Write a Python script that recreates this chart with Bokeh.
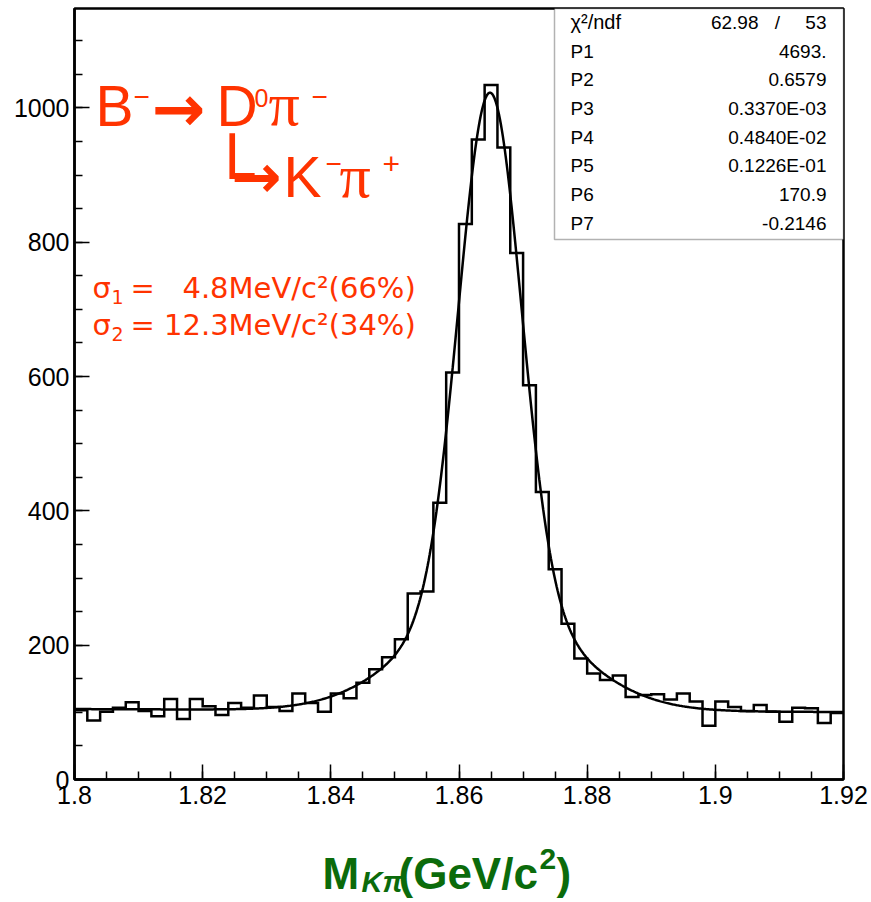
import numpy as np
from bokeh.plotting import figure
from bokeh.layouts import column
from bokeh.models import Range1d, FixedTicker, Label, BoxAnnotation
from bokeh.embed import file_html
from bokeh.resources import INLINE

# ---------------- data ----------------
bin_lo = 1.80
bin_width = 0.002
counts = [103, 88, 101, 107, 115, 102, 94, 120, 90, 120,
          109, 96, 114, 107, 125, 108, 102, 128, 114, 101,
          128, 121, 144, 164, 182, 209, 277, 280, 412, 606,
          827, 953, 1034, 941, 784, 587, 428, 313, 232, 180,
          158, 148, 155, 123, 126, 127, 119, 128, 116, 80,
          116, 108, 102, 111, 101, 86, 107, 106, 84, 99]

x_ticks = [1.80, 1.82, 1.84, 1.86, 1.88, 1.90, 1.92]
x_tick_labels = ["1.8", "1.82", "1.84", "1.86", "1.88", "1.9", "1.92"]
x_minor = [1.80 + 0.005 * i for i in range(25)]
y_ticks = [0, 200, 400, 600, 800, 1000]
y_minor = [50 * i for i in range(23)]

par_names = ["P1", "P2", "P3", "P4", "P5", "P6", "P7"]
par_values = [4693.0, 0.6579, 0.3370e-03, 0.4840e-02, 0.1226e-01, 170.9, -0.2146]
par_texts = ["4693.", "0.6579", "0.3370E-03", "0.4840E-02", "0.1226E-01", "170.9", "-0.2146"]
chi2_text = "62.98"
ndf_text = "53"

# fit model: double gaussian (fraction P2, widths P4, P5, mean 1.8645+P3) + linear bkg
m_ref = 1.8645
fit_norm = 0.003
P1, P2, P3, P4, P5, P6, P7 = par_values
xs = np.linspace(1.80, 1.92, 800)
mean = m_ref + P3
g1 = np.exp(-0.5 * ((xs - mean) / P4) ** 2) / (np.sqrt(2 * np.pi) * P4)
g2 = np.exp(-0.5 * ((xs - mean) / P5) ** 2) / (np.sqrt(2 * np.pi) * P5)
fit_y = P1 * fit_norm * (P2 * g1 + (1 - P2) * g2) + P6 * (1 + P7 * xs)

# ---------------- main figure ----------------
YMAX = 1148
FL, FR, FT, FB = 74, 843, 8, 779
W = 870
H1 = 830
p = figure(width=W, height=H1, x_range=Range1d(1.80, 1.92), y_range=Range1d(0, YMAX),
           output_backend="svg", toolbar_location=None,
           min_border_left=FL, min_border_right=W - FR, min_border_top=FT,
           min_border_bottom=H1 - FB)
p.background_fill_color = "white"
p.border_fill_color = "white"
p.grid.visible = False
p.outline_line_color = "black"
p.outline_line_width = 2.5

for ax in (p.xaxis[0], p.yaxis[0]):
    ax.axis_line_width = 2.5
    ax.major_tick_line_width = 1.5
    ax.minor_tick_line_width = 1.5
    ax.major_tick_in = 15
    ax.major_tick_out = 0
    ax.minor_tick_in = 8
    ax.minor_tick_out = 0
    ax.major_label_text_font = "Liberation Sans"
    ax.major_label_text_font_size = "25px"
    ax.major_label_text_color = "black"

p.xaxis.ticker = FixedTicker(ticks=x_ticks, minor_ticks=x_minor)
p.xaxis.major_label_overrides = {t: s for t, s in zip(x_ticks, x_tick_labels)}
p.xaxis.major_label_standoff = 6
p.yaxis.ticker = FixedTicker(ticks=y_ticks, minor_ticks=y_minor)
p.yaxis.major_label_standoff = 5

edges = bin_lo + bin_width * np.arange(len(counts) + 1)
p.step(edges, counts + [counts[-1]], mode="after", line_color="black", line_width=2.5,
       line_join="miter")
p.line(xs, fit_y, line_color="black", line_width=2.5)

# page-pixel -> data helpers for annotation placement
def X(px):
    return 1.80 + (px - FL) / (FR - FL) * 0.12
def Y(py):
    return (FB - py) / (FB - FT) * YMAX

BASE_SHIFT = 0.37  # empirical: rendered baseline sits this many em below the anchor

def txt(fig, s, x, y, size, color="black", font="Liberation Sans", align="left",
        style="normal"):
    fig.add_layout(Label(x=x, y=y, text=s, text_font=font,
                         text_font_size=f"{size}px", text_color=color, text_align=align,
                         text_baseline="alphabetic", text_font_style=style))

def ptxt(s, px, py, size, **kw):
    txt(p, s, X(px), Y(py - BASE_SHIFT * size), size, **kw)

RED = "#ff3300"
NB = "\u00a0"
# decay chain
ptxt("B", 95, 127, 57, color=RED)
ptxt("\u2212", 133, 106, 28, color=RED)
ptxt("\u2192", 151, 132, 64, color=RED, font="DejaVu Sans", style="bold")
ptxt("D", 216, 127, 57, color=RED)
ptxt("0", 254, 107, 25, color=RED)
ptxt("\u03c0", 268, 126, 62, color=RED, font="Liberation Serif")
ptxt("\u2212", 311, 106, 28, color=RED)
ptxt("\u2514", 210, 202, 72, color=RED, font="DejaVu Sans", style="bold")
ptxt("\u2192", 231, 198, 60, color=RED, font="DejaVu Sans", style="bold")
ptxt("K", 283, 198, 57, color=RED)
ptxt("\u2212", 325, 173, 28, color=RED)
ptxt("\u03c0", 339, 198, 62, color=RED, font="Liberation Serif")
ptxt("+", 382, 175, 30, color=RED)

# resolutions
ptxt("\u03c3", 92, 298, 29, color=RED, font="DejaVu Sans")
ptxt("1", 111, 304, 19, color=RED, font="DejaVu Sans")
ptxt("=" + NB * 3 + "4.8MeV/c\u00b2(66%)", 130, 298, 29, color=RED, font="DejaVu Sans")
ptxt("\u03c3", 92, 335, 29, color=RED, font="DejaVu Sans")
ptxt("2", 111, 341, 19, color=RED, font="DejaVu Sans")
ptxt("=" + NB + "12.3MeV/c\u00b2(34%)", 130, 335, 29, color=RED, font="DejaVu Sans")

# stats box
p.add_layout(BoxAnnotation(left=X(554), right=X(843), top=Y(FT), bottom=Y(239),
                           fill_color="white", fill_alpha=1.0, line_color="black",
                           line_width=1.5))
row0 = 29.0
row_h = 28.7
ptxt("\u03c7\u00b2/ndf", 570, row0, 20)
ptxt(chi2_text, 758, row0, 19, align="right")
ptxt("/", 777, row0, 19, align="center")
ptxt(ndf_text, 826, row0, 19, align="right")
for i, (n, v) in enumerate(zip(par_names, par_texts)):
    yb = row0 + row_h * (i + 1)
    ptxt(n, 570, yb, 19)
    ptxt(v, 826, yb, 19, align="right")

# ---------------- x-axis title strip ----------------
H2 = 70
t = figure(width=W, height=H2, x_range=Range1d(FL, FR), y_range=Range1d(H1 + H2, H1),
           output_backend="svg", toolbar_location=None, x_axis_type=None,
           y_axis_type=None, min_border_left=FL, min_border_right=W - FR,
           min_border_top=0, min_border_bottom=0)
t.outline_line_color = None
t.grid.visible = False
t.background_fill_color = "white"
t.border_fill_color = "white"

def ttxt(s, px, py, size, **kw):
    txt(t, s, px, py - BASE_SHIFT * size, size, **kw)

GREEN = "#0b6b0b"
ttxt("M", 322, 889, 44, color=GREEN, style="bold")
ttxt("K\u03c0", 361, 892, 29, color=GREEN, style="bold italic")
ttxt("(GeV/c", 398, 889, 44, color=GREEN, style="bold")
ttxt("2", 539, 870, 30, color=GREEN, style="bold")
ttxt(")", 556, 889, 44, color=GREEN, style="bold")

layout = column(p, t, spacing=0)
open("out.html", "w").write(file_html(layout, INLINE))
